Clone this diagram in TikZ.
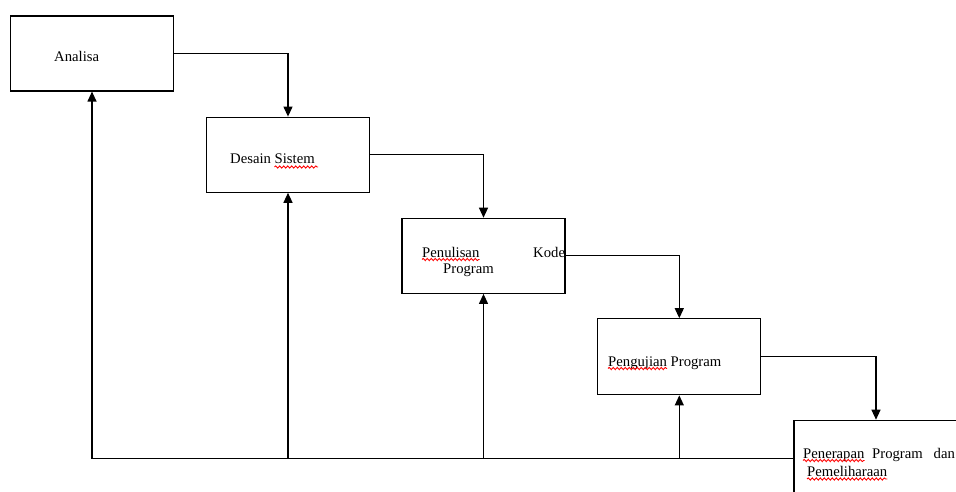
\documentclass[tikz,border=0pt]{standalone}
\usepackage{fontspec}
\setmainfont{Liberation Serif}
\usetikzlibrary{arrows.meta,decorations.pathmorphing}
\begin{document}
\begin{tikzpicture}[x=1pt,y=-1pt,
 box/.style={draw,line width=1.2pt,minimum width=163pt,minimum height=75pt,inner sep=0pt},
 lbl/.style={anchor=base west,inner sep=0pt,font=\fontsize{14.7}{17}\selectfont},
 conn/.style={line width=1.2pt,-{Triangle[length=10pt,width=9pt]}},
 spell/.style={draw=red,line width=0.9pt,decorate,decoration={snake,segment length=4pt,amplitude=1.1pt}}]
\clip (0,0) rectangle (956,492);
\fill[white] (0,0) rectangle (956,492);
% boxes
\node[box] (b1) at (92,53.5) {};
\node[box] (b2) at (288,154.7) {};
\node[box] (b3) at (483.5,255.8) {};
\node[box,minimum height=76pt] (b4) at (679.3,356.8) {};
\node[box,minimum width=164pt,minimum height=76pt] (b5) at (876,458.3) {};
% texts
\node[lbl] (t1) at (54,62) {Analisa};
\node[lbl] (t2) at (230,163.5) {Desain Sistem};
\node[lbl] (t3a) at (422,257) {Penulisan};
\node[lbl] (t3b) at (533,257) {Kode};
\node[lbl] (t3c) at (443,273.5) {Program};
\node[lbl] (t4) at (608,366) {Pengujian Program};
\node[lbl] (t5a) at (803,458) {Penerapan};
\node[lbl] (t5b) at (872,458) {Program};
\node[lbl] (t5c) at (933.5,458) {dan};
\node[lbl] (t5d) at (807,476.5) {Pemeliharaan};
% spelling marks
\draw[spell] (274.5,167) -- (318,167);
\draw[spell] ([yshift=-2.5pt]t3a.base west) -- ([yshift=-2.5pt]t3a.base east);
\draw[spell] (608,368.5) -- (667,368.5);
\draw[spell] ([yshift=-2.5pt]t5a.base west) -- ([yshift=-2.5pt]t5a.base east);
\draw[spell] ([yshift=-2.5pt]t5d.base west) -- ([yshift=-2.5pt]t5d.base east);
% forward connectors
\draw[conn] (b1.east) -| (b2.north);
\draw[conn] (b2.east) -| (b3.north);
\draw[conn] (b3.east) -| (b4.north);
\draw[conn] (b4.east) -| (b5.north);
% feedback connectors
\draw[conn] (b5.west) -| (b1.south);
\draw[conn] (b2.south |- b5.west) -- (b2.south);
\draw[conn] (b3.south |- b5.west) -- (b3.south);
\draw[conn] (b4.south |- b5.west) -- (b4.south);
\end{tikzpicture}
\end{document}
